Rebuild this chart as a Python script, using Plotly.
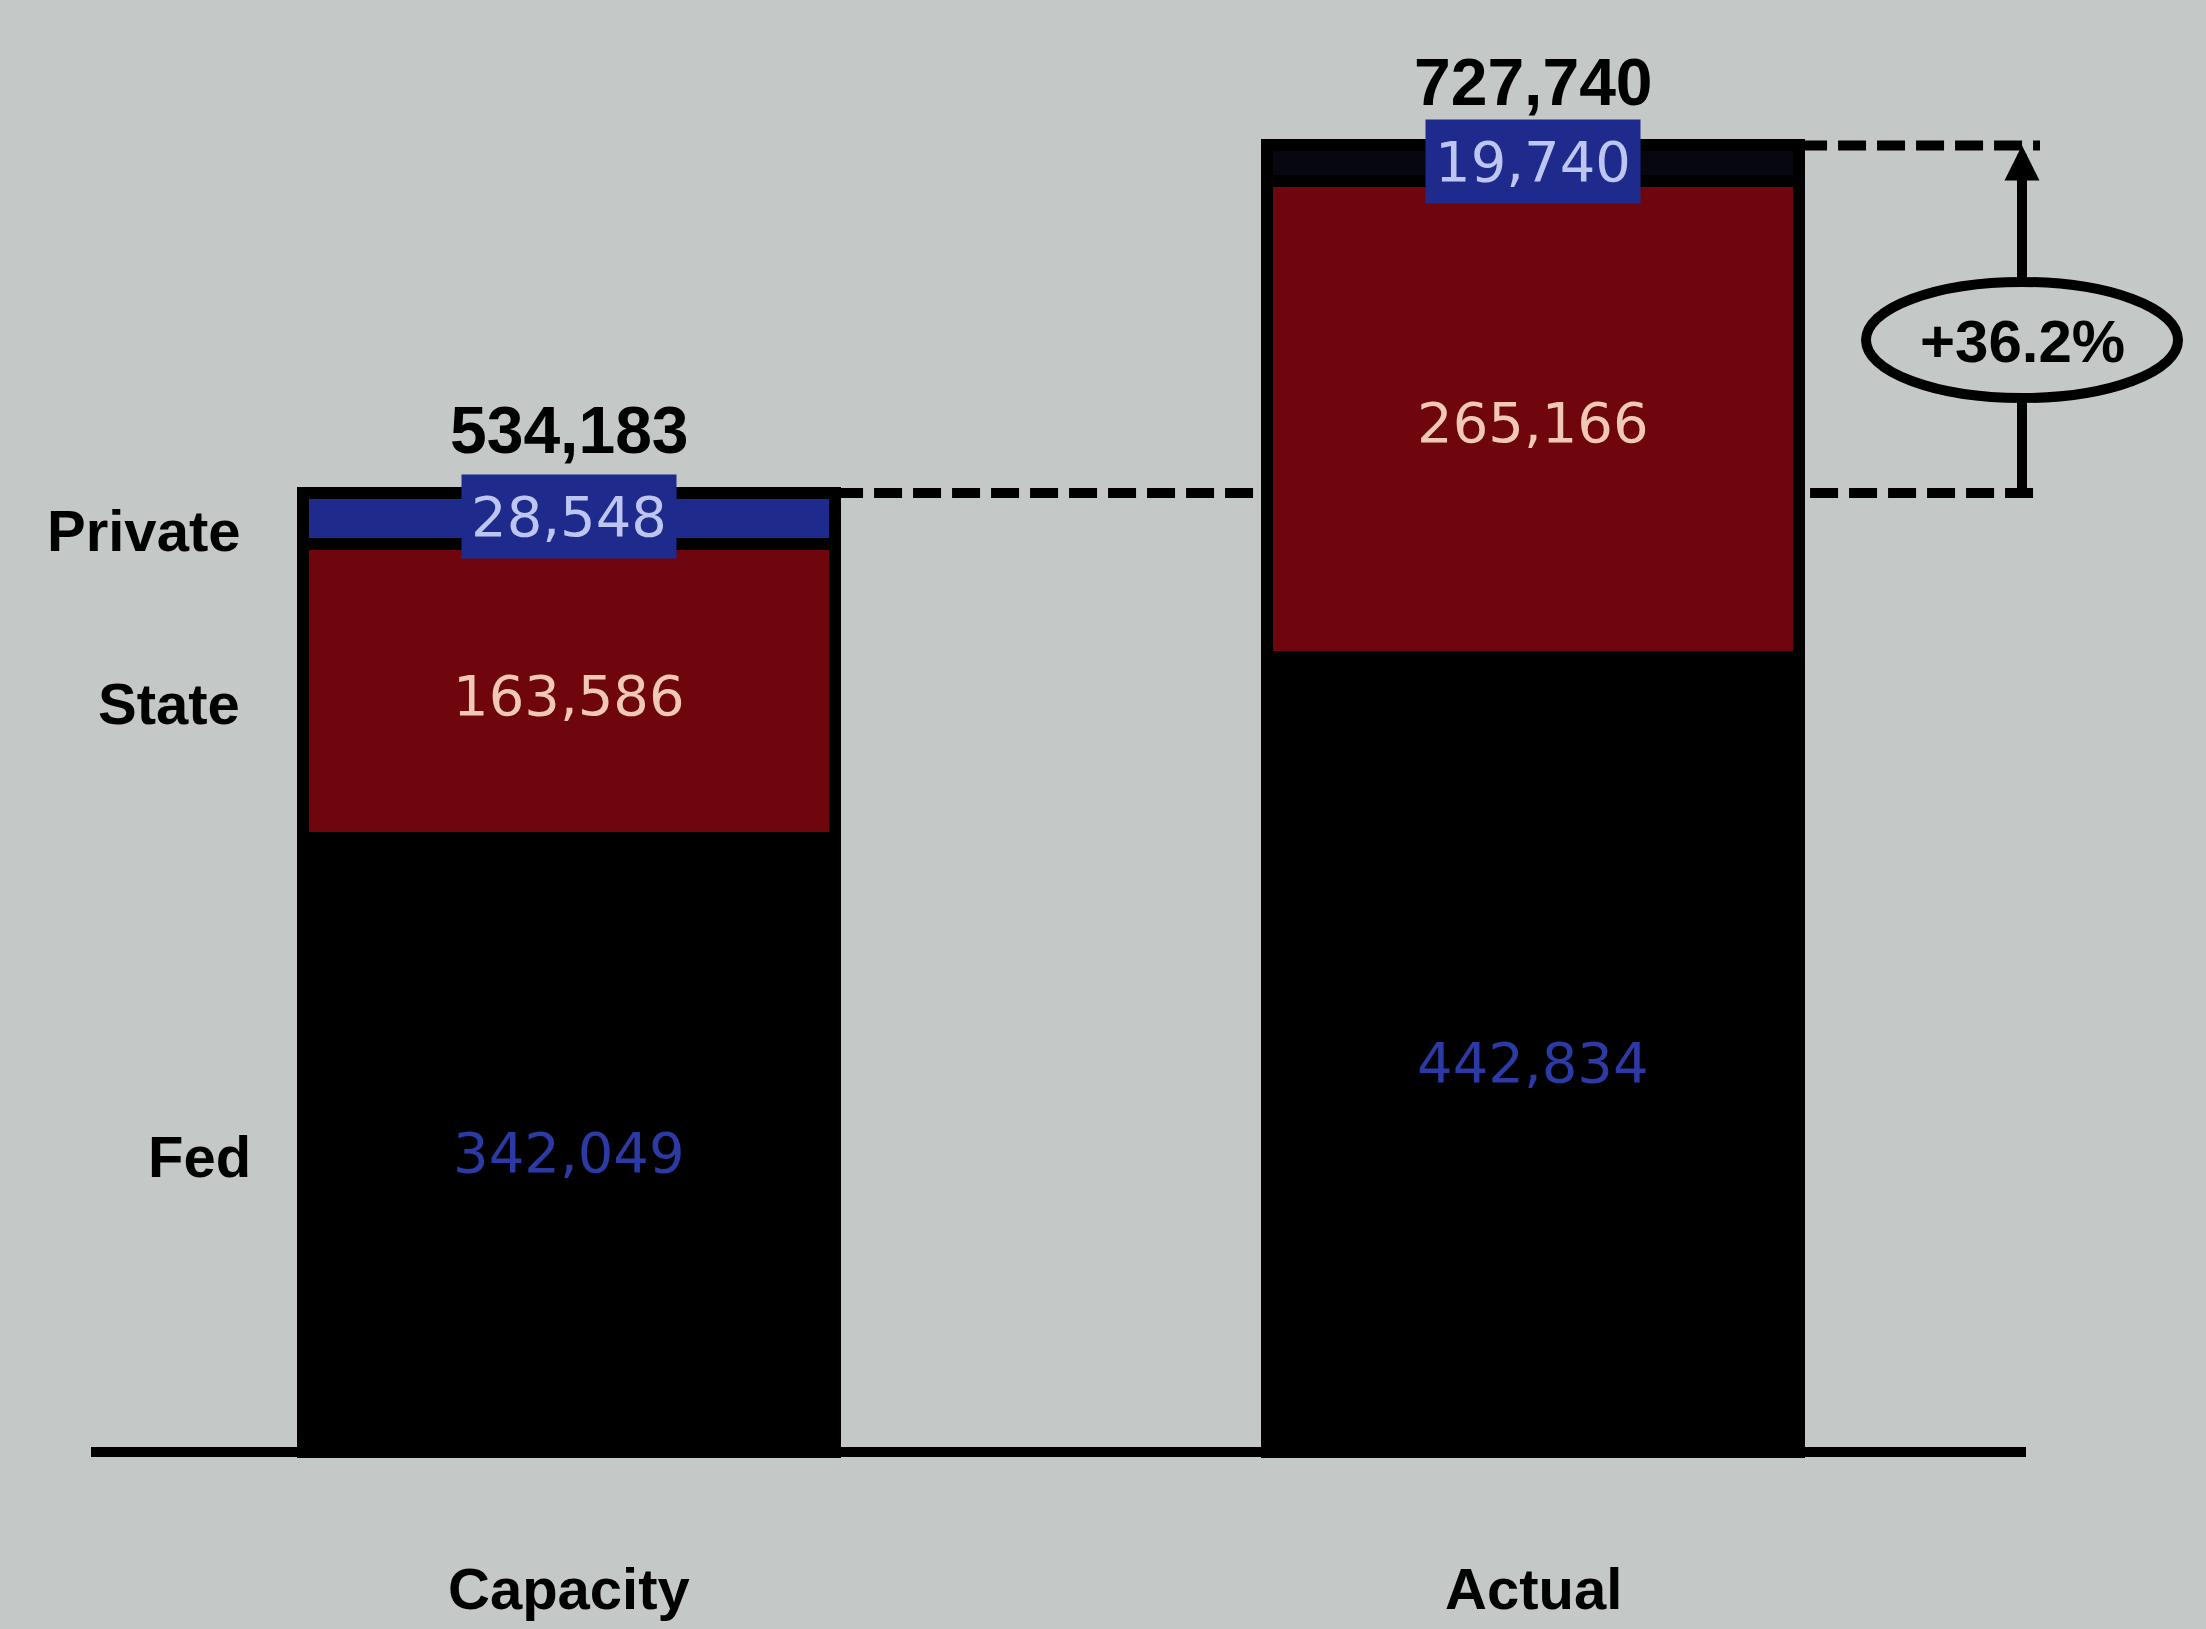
import plotly.graph_objects as go

# ---- data ----
categories = ["Capacity", "Actual"]
fed = [342049, 442834]
state = [163586, 265166]
private = [28548, 19740]
series_names = ["Fed", "State", "Private"]

totals = [f + s + p for f, s, p in zip(fed, state, private)]
pct = (totals[1] / totals[0] - 1) * 100

# ---- layout helpers (pixel geometry of the canvas) ----
W, H = 2206, 1629
X0PX, XUNIT = 569, 964          # pixel of category 0, pixels per category step
Y0PX, YPER = 1452, 557          # pixel of y=0, units per pixel

def xd(px):
    return (px - X0PX) / XUNIT

def yd(px):
    return (Y0PX - px) * YPER

BG = "#c4c9c8"
RED = "#70060d"
NAVY = "#1e2b8c"
xs = [0, 1]
bw = 0.552

fig = go.Figure()
fig.add_trace(go.Bar(x=xs, y=fed, width=bw, name=series_names[0],
                     marker=dict(color="#000000", line=dict(color="#000000", width=12))))
fig.add_trace(go.Bar(x=xs, y=state, width=bw, name=series_names[1],
                     marker=dict(color=RED, line=dict(color="#000000", width=12))))
fig.add_trace(go.Bar(x=xs, y=private, width=bw, name=series_names[2],
                     marker=dict(color=[NAVY, "#07070f"], line=dict(color="#000000", width=12))))

ann = []
inner_font = "DejaVu Sans"
bold_font = "Liberation Sans"

for i in range(2):
    ann.append(dict(x=xs[i], y=fed[i] / 2, text=f"{fed[i]:,}", showarrow=False,
                    font=dict(family=inner_font, size=56, color="#2c3aa6"), yshift=-8))
    ann.append(dict(x=xs[i], y=fed[i] + state[i] / 2, text=f"{state[i]:,}", showarrow=False,
                    font=dict(family=inner_font, size=56, color="#f0c8b8"), yshift=-4))
    ann.append(dict(x=xs[i], y=fed[i] + state[i] + private[i] / 2, text=f"{private[i]:,}",
                    showarrow=False, bgcolor=NAVY, borderpad=9,
                    font=dict(family=inner_font, size=56, color="#bcc6f0"), yshift=2))
    ann.append(dict(x=xs[i], y=totals[i], text=f"<b>{totals[i]:,}</b>", showarrow=False,
                    yanchor="bottom", yshift=24,
                    font=dict(family=bold_font, size=66, color="#000000")))
    ann.append(dict(x=xs[i], y=yd(1588), text=f"<b>{categories[i]}</b>", showarrow=False,
                    font=dict(family=bold_font, size=58, color="#000000")))

side_y = [fed[0] / 2, fed[0] + state[0] / 2, fed[0] + state[0] + private[0] / 2]
side_x = [xd(253), xd(242), xd(242)]
for name, yy, xx in zip(series_names, side_y, side_x):
    ann.append(dict(x=xx, y=yy, text=f"<b>{name}</b>", showarrow=False, xanchor="right",
                    yshift=-12, font=dict(family=bold_font, size=58, color="#000000")))

# ellipse geometry (layout only)
xa = xd(2022)
ell_top, ell_bot = yd(282), yd(398)

# upper arrow segment: from ellipse top to the Actual total
ann.append(dict(x=xa, y=totals[1], ax=xa, ay=ell_top, axref="x", ayref="y",
                text="", showarrow=True, arrowhead=2, arrowsize=0.7, arrowwidth=10,
                arrowcolor="#000000", standoff=0))

shapes = []
shapes.append(dict(type="line", x0=xd(91), x1=xd(2026), y0=0, y1=0,
                   line=dict(color="#000000", width=10), layer="above"))
shapes.append(dict(type="line", x0=xs[0] + bw / 2, x1=xd(2040), y0=totals[0], y1=totals[0],
                   line=dict(color="#000000", width=10, dash="28px,11px"), layer="below"))
shapes.append(dict(type="line", x0=xs[1] + bw / 2, x1=xd(2040), y0=totals[1], y1=totals[1],
                   line=dict(color="#000000", width=10, dash="28px,11px"), layer="below"))
# lower vertical segment: from the Capacity total to ellipse bottom
shapes.append(dict(type="line", x0=xa, x1=xa, y0=totals[0], y1=ell_bot,
                   line=dict(color="#000000", width=10)))
shapes.append(dict(type="circle", x0=xd(1866), x1=xd(2178), y0=ell_bot, y1=ell_top,
                   line=dict(color="#000000", width=10), fillcolor=BG, layer="above"))
ann.append(dict(x=xd(2022), y=yd(341), text=f"<b>+{pct:.1f}%</b>", showarrow=False,
                font=dict(family=bold_font, size=60, color="#000000")))

fig.update_layout(
    width=W, height=H, autosize=False,
    margin=dict(l=0, r=0, t=0, b=0),
    paper_bgcolor=BG, plot_bgcolor=BG,
    barmode="stack", showlegend=False, hovermode=False,
    xaxis=dict(range=[xd(0), xd(W)], visible=False, fixedrange=True),
    yaxis=dict(range=[yd(H), yd(0)], visible=False, fixedrange=True),
    annotations=ann, shapes=shapes,
)

fig.write_html("out.html")
